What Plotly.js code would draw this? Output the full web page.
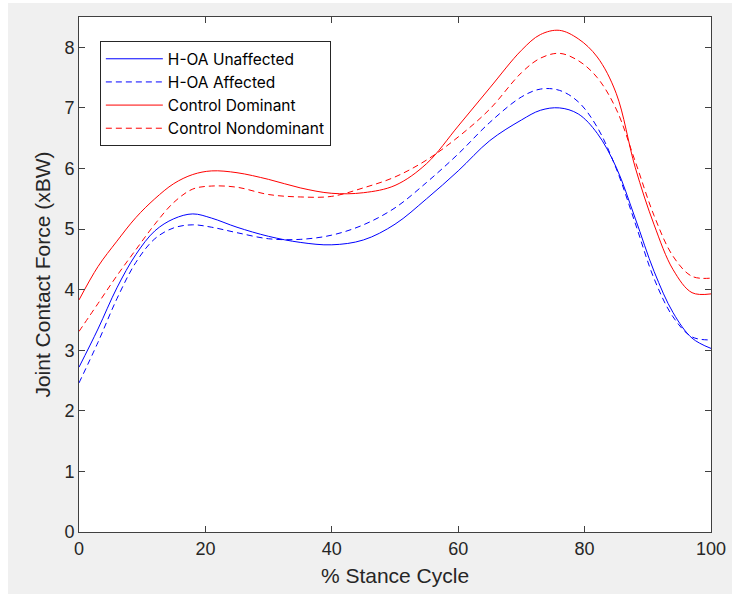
<!DOCTYPE html>
<html>
<head>
<meta charset="utf-8">
<script src="https://cdn.plot.ly/plotly-3.0.1.min.js"></script>
<style>
  html, body { margin: 0; padding: 0; background: #ffffff; }
  #chart { position: absolute; left: 8px; top: 3px; width: 724px; height: 591px; }
</style>
</head>
<body>
<div id="chart"></div>
<script>
// % stance cycle sample points
const stance = [0,3,6,9,12,15,18,21,25,30,35,40,45,50,55,60,65,70,73,76,79,82,85,88,91,94,97,100];

// Joint contact force (xBW)
const hoaUnaffected = [2.72,3.35,4.03,4.58,4.97,5.17,5.25,5.18,5.03,4.88,4.78,4.74,4.82,5.08,5.50,5.96,6.46,6.80,6.96,7.00,6.90,6.58,6.02,5.18,4.30,3.62,3.20,3.03];
const hoaAffected   = [2.46,3.13,3.85,4.45,4.84,5.02,5.07,5.03,4.94,4.84,4.83,4.90,5.07,5.35,5.77,6.24,6.76,7.18,7.31,7.29,7.10,6.68,6.00,5.10,4.18,3.55,3.22,3.17];
const ctrlDominant  = [3.83,4.38,4.80,5.19,5.50,5.75,5.90,5.96,5.93,5.82,5.68,5.59,5.60,5.72,6.08,6.70,7.33,7.95,8.21,8.28,8.14,7.84,7.24,6.02,5.07,4.33,3.95,3.93];
const ctrlNondom    = [3.31,3.77,4.23,4.66,5.08,5.44,5.66,5.71,5.69,5.57,5.53,5.54,5.68,5.86,6.14,6.52,6.98,7.58,7.82,7.90,7.78,7.50,6.98,6.12,5.22,4.55,4.22,4.19];

const seriesNames = ['H-OA Unaffected','H-OA Affected','Control Dominant','Control Nondominant'];
const xTicks = [0,20,40,60,80,100];
const yTicks = [0,1,2,3,4,5,6,7,8];

const BLUE = '#0000ff', RED = '#ff0000', DASH = '6px,4px';
const ink = '#262626';
const FONT = 'Arial, "Liberation Sans", sans-serif';

function mk(y, name, color, dash) {
  return {
    x: stance, y: y, name: name, type: 'scatter', mode: 'lines',
    line: {color: color, width: 1, dash: dash, shape: 'spline', smoothing: 1},
    hoverinfo: 'skip'
  };
}

const data = [
  mk(hoaUnaffected, seriesNames[0], BLUE, 'solid'),
  mk(hoaAffected,   seriesNames[1], BLUE, DASH),
  mk(ctrlDominant,  seriesNames[2], RED,  'solid'),
  mk(ctrlNondom,    seriesNames[3], RED,  DASH)
];

const axisCommon = {
  showline: true, linecolor: '#404040', linewidth: 1, mirror: 'ticks',
  ticks: 'inside', ticklen: 6, tickwidth: 1, tickcolor: '#404040',
  showgrid: false, zeroline: false,
  tickfont: {family: FONT, size: 18, color: ink}
};

const layout = {
  width: 724, height: 591,
  paper_bgcolor: '#f0f0f0', plot_bgcolor: '#ffffff',
  margin: {l: 71, r: 21, t: 14, b: 62},
  showlegend: true,
  font: {family: FONT, color: ink},
  xaxis: Object.assign({}, axisCommon, {
    range: [0, 100], tickmode: 'array', tickvals: xTicks, ticktext: xTicks.map(String),
    title: {text: '% Stance Cycle', font: {size: 21, color: ink}, standoff: 10}
  }),
  yaxis: Object.assign({}, axisCommon, {
    range: [0, 8.5], tickmode: 'array', tickvals: yTicks, ticktext: yTicks.map(String),
    title: {text: 'Joint Contact Force (xBW)', font: {size: 21, color: ink}, standoff: 8}
  }),
  legend: {
    x: 0.033, y: 0.953, xanchor: 'left', yanchor: 'top',
    bgcolor: '#ffffff', bordercolor: ink, borderwidth: 1,
    font: {family: 'Inter, Arial, sans-serif', size: 15.5, color: '#000000'},
    itemwidth: 57, tracegroupgap: 0
  }
};

Plotly.newPlot('chart', data, layout, {staticPlot: true, displayModeBar: false});
</script>
</body>
</html>
